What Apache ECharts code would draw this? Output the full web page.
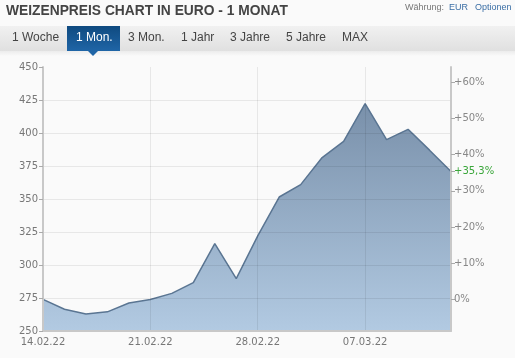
<!DOCTYPE html>
<html><head><meta charset="utf-8">
<script src="https://cdn.jsdelivr.net/npm/echarts@6/dist/echarts.min.js"></script>
<style>html,body{margin:0;padding:0;background:#fafafa;}#c{width:515px;height:358px;}</style>
</head><body><div id="c"></div>
<script>
const categories = ['14.02.22','15.02.22','16.02.22','17.02.22','18.02.22','21.02.22','22.02.22','23.02.22','24.02.22','25.02.22','28.02.22','01.03.22','02.03.22','03.03.22','04.03.22','07.03.22','08.03.22','09.03.22','10.03.22','11.03.22'];
const prices = [274, 266.5, 262.8, 264.5, 271.2, 273.8, 278.5, 286.7, 316.2, 289.7, 322, 351.5, 360.9, 381.4, 393.7, 422.3, 395, 402.8, 387, 370.8];
const priceTicks = [250, 275, 300, 325, 350, 375, 400, 425, 450];
const pctTicks = [0, 10, 20, 30, 40, 50, 60];
const tabs = ['1 Woche', '1 Mon.', '3 Mon.', '1 Jahr', '3 Jahre', '5 Jahre', 'MAX'];
const tabX = [12, 76, 128, 181, 230, 286, 342];

const base = prices[0];
const pMin = priceTicks[0], pMax = priceTicks[priceTicks.length - 1];
const pctNow = Math.round((prices[prices.length - 1] / base - 1) * 1000) / 10;
const pctFmt = v => (v > 0 ? '+' : '') + String(v).replace('.', ',') + '%';

const chart = echarts.init(document.getElementById('c'), null, {renderer: 'canvas'});
const graphics = [
  {type: 'text', left: 6, top: 4, style: {text: 'WEIZENPREIS CHART IN EURO - 1 MONAT', font: 'bold 13.8px "Liberation Sans", Arial, sans-serif', fill: '#444'}},
  {type: 'text', left: 405, top: 3, style: {text: 'Währung:', font: '9px "Liberation Sans", Arial, sans-serif', fill: '#777'}},
  {type: 'text', left: 449, top: 3, style: {text: 'EUR', font: '9px "Liberation Sans", Arial, sans-serif', fill: '#3a6ea5'}},
  {type: 'text', left: 475, top: 3, style: {text: 'Optionen', font: '9px "Liberation Sans", Arial, sans-serif', fill: '#3a6ea5'}},
  {type: 'rect', shape: {x: 0, y: 26, width: 515, height: 25}, style: {fill: new echarts.graphic.LinearGradient(0, 0, 0, 1, [{offset: 0, color: '#f1f1f1'}, {offset: 1, color: '#e0e0e0'}])}},
  {type: 'rect', shape: {x: 0, y: 51, width: 515, height: 5}, style: {fill: new echarts.graphic.LinearGradient(0, 0, 0, 1, [{offset: 0, color: '#ececec'}, {offset: 1, color: '#fafafa'}])}},
  {type: 'rect', shape: {x: 67, y: 26, width: 53, height: 25}, style: {fill: new echarts.graphic.LinearGradient(0, 0, 0, 1, [{offset: 0, color: '#0f4a80'}, {offset: 1, color: '#1f65a6'}])}},
  {type: 'polygon', shape: {points: [[88, 51], [98, 51], [93, 56]]}, style: {fill: '#1f65a6'}}
];
tabs.forEach((t, i) => {
  graphics.push({type: 'text', left: tabX[i], top: 32, style: {text: t, font: '12px "Liberation Sans", Arial, sans-serif', fill: i === 1 ? '#fff' : '#444'}});
});

const gridColors = priceTicks.map((v, i) => (i === 0 || i === priceTicks.length - 1) ? 'rgba(0,0,0,0)' : 'rgba(0,0,0,0.075)');
const lblFont = {fontFamily: 'DejaVu Sans, Verdana, sans-serif', fontSize: 10};

chart.setOption({
  backgroundColor: '#fafafa',
  animation: false,
  graphic: graphics,
  grid: {left: 43, right: 64, top: 67, bottom: 27, containLabel: false},
  xAxis: {
    type: 'category', data: categories, boundaryGap: false, z: 3,
    axisLine: {onZero: false, lineStyle: {color: '#c8c8c8', width: 2}},
    axisTick: {show: false},
    axisLabel: Object.assign({color: '#777', margin: 6, interval: (i) => i % 5 === 0, formatter: v => v}, lblFont),
    splitLine: {show: true, interval: (i) => i % 5 === 0 && i > 0, lineStyle: {color: 'rgba(0,0,0,0.075)', width: 1}}
  },
  yAxis: [
    {
      type: 'value', min: pMin, max: pMax, interval: 25, position: 'left', z: 3,
      axisLine: {show: true, lineStyle: {color: '#c8c8c8', width: 2}},
      axisTick: {show: true, length: 4, lineStyle: {color: '#aaa'}},
      axisLabel: Object.assign({color: '#777', margin: 5}, lblFont),
      splitLine: {show: true, lineStyle: {color: gridColors, width: 1}}
    },
    {
      type: 'value', min: (pMin / base - 1) * 100, max: (pMax / base - 1) * 100, position: 'right', z: 3,
      axisLine: {show: true, lineStyle: {color: '#c8c8c8', width: 2}},
      axisTick: {show: true, length: 4, lineStyle: {color: '#aaa'}, customValues: pctTicks.concat([pctNow])},
      axisLabel: Object.assign({
        margin: 3, color: '#888', customValues: pctTicks.concat([pctNow]),
        formatter: v => Math.abs(v - pctNow) < 1e-6 ? '{g|' + pctFmt(pctNow) + '}' : pctFmt(v),
        rich: {g: Object.assign({color: '#3aa63a'}, lblFont)}
      }, lblFont),
      splitLine: {show: false}
    }
  ],
  series: [{
    type: 'line', data: prices, yAxisIndex: 0, symbol: 'none', smooth: false, z: 2,
    lineStyle: {color: '#5a7592', width: 1.5},
    areaStyle: {
      origin: 'start', opacity: 1,
      color: new echarts.graphic.LinearGradient(0, 0, 0, 1, [{offset: 0, color: '#7990aa'}, {offset: 1, color: '#b2cae2'}])
    }
  }]
});
</script></body></html>
